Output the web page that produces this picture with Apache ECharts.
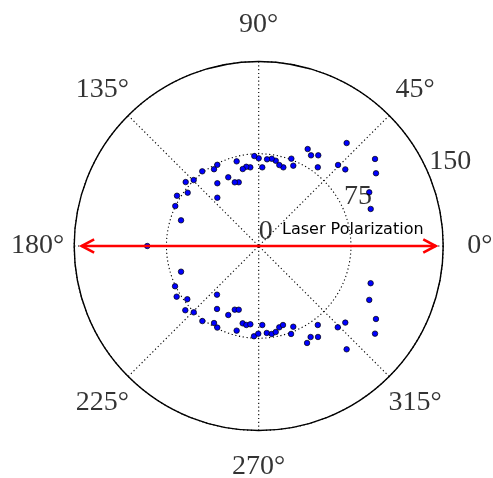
<!DOCTYPE html>
<html>
<head>
<meta charset="utf-8">
<script src="https://cdn.jsdelivr.net/npm/echarts@6/dist/echarts.min.js"></script>
<style>
  html, body { margin: 0; padding: 0; background: #fff; }
  #chart { width: 493px; height: 478px; }
</style>
</head>
<body>
<div id="chart"></div>
<script>
// Measured signal vs. angle (degrees) relative to the laser polarization axis
const angles = [
  18.3, 25.9, 31.8, 36.8, 41.5, 45.6, 49.5, 53.1, 56.7, 60.0,
  63.2, 66.7, 69.5, 72.6, 75.7, 78.7, 81.5, 84.5, 87.4, 90.0,
  92.8, 96.1, 98.9, 101.7, 104.6, 107.4, 110.6, 113.9, 117.0, 120.2,
  123.4, 127.1, 130.6, 134.6, 138.8, 143.1, 148.4, 154.4, 161.7, 180.0,
  198.3, 205.7, 211.7, 216.7, 221.2, 225.6, 229.4, 233.1, 236.5, 239.9,
  243.1, 246.2, 249.4, 252.6, 255.4, 258.3, 261.1, 263.9, 267.0, 269.7,
  272.6, 275.3, 278.4, 281.2, 284.2, 287.1, 290.2, 293.2, 296.5, 299.7,
  303.1, 306.8, 310.4, 314.2, 318.5, 323.0, 328.1, 334.0, 341.6
];
const radii = [
  95.9, 99.9, 112.2, 118.1, 94.0, 92.2, 110.1, 80.0, 88.2, 85.1,
  88.3, 71.1, 75.8, 67.0, 67.9, 70.7, 71.7, 70.8, 64.0, 71.3,
  73.2, 64.3, 65.2, 63.9, 71.1, 54.3, 55.3, 61.1, 74.1, 72.2,
  61.1, 76.1, 51.7, 75.3, 78.9, 72.2, 78.0, 75.2, 66.5, 90.6,
  66.5, 75.5, 78.4, 72.4, 79.3, 75.5, 52.1, 76.3, 61.4, 72.4,
  74.4, 61.3, 55.3, 54.3, 71.1, 64.2, 65.0, 64.0, 73.5, 71.3,
  64.3, 71.0, 72.3, 71.3, 68.2, 67.2, 76.2, 71.4, 88.1, 85.2,
  88.3, 80.2, 110.3, 92.2, 94.0, 118.4, 112.3, 100.0, 95.9
];

// Axis ticks
const angleTicks = [0, 45, 90, 135, 180, 225, 270, 315];
const radiusTicks = [0, 75, 150];
const radiusMax = 150;
const radiusLabelAngle = 22.5;
const angleLabelRadius = 179.7;

// Double-headed arrow marking the polarization direction
const arrowR = 144;
const headBackR = 133.9;
const headHalfAngle = 2.33;

const serif = '"Liberation Serif", "DejaVu Serif", serif';

const points = angles.map((a, i) => [radii[i], a]);

const chart = echarts.init(document.getElementById('chart'), null, { renderer: 'canvas' });

const gridDots = { color: '#000', width: 1.1, type: [1.2, 2.6] };

const option = {
  animation: false,
  backgroundColor: '#fff',
  polar: { center: [258.7, 246], radius: 184.5 },
  angleAxis: {
    type: 'value',
    min: 0, max: 360, interval: 45,
    startAngle: 0, clockwise: false,
    axisLine: { show: true, lineStyle: { color: '#000', width: 1.4 } },
    axisTick: { show: false },
    axisLabel: { show: false },
    splitLine: { show: true, lineStyle: gridDots }
  },
  radiusAxis: {
    type: 'value',
    min: 0, max: radiusMax, interval: 75,
    axisLine: { show: false },
    axisTick: { show: false },
    axisLabel: { show: false },
    splitLine: { show: true, lineStyle: gridDots }
  },
  graphic: [{
    type: 'text',
    left: 282, top: 222,
    style: {
      text: 'Laser Polarization',
      font: '16px "DejaVu Sans", sans-serif',
      fill: '#000'
    },
    z: 20
  }],
  series: [
    {
      type: 'scatter',
      coordinateSystem: 'polar',
      data: points,
      symbol: 'circle',
      symbolSize: 5.5,
      itemStyle: { color: '#0000ff', borderColor: '#000', borderWidth: 0.7, opacity: 1 },
      z: 3
    },
    {
      // arrow shaft
      type: 'line',
      coordinateSystem: 'polar',
      data: [[arrowR, 180], [arrowR, 0]],
      symbol: 'none',
      lineStyle: { color: '#ff0000', width: 2.6 },
      z: 5
    },
    {
      type: 'line',
      coordinateSystem: 'polar',
      data: [[headBackR, headHalfAngle], [arrowR, 0], [headBackR, 360 - headHalfAngle]],
      symbol: 'none',
      lineStyle: { color: '#ff0000', width: 2.6, join: 'miter' },
      z: 5
    },
    {
      type: 'line',
      coordinateSystem: 'polar',
      data: [[headBackR, 180 - headHalfAngle], [arrowR, 180], [headBackR, 180 + headHalfAngle]],
      symbol: 'none',
      lineStyle: { color: '#ff0000', width: 2.6, join: 'miter' },
      z: 5
    },
    {
      // angle tick labels
      type: 'scatter',
      coordinateSystem: 'polar',
      clip: false,
      silent: true,
      data: angleTicks.map(a => [angleLabelRadius, a]),
      symbolSize: 1,
      itemStyle: { color: 'transparent' },
      label: {
        show: true,
        position: 'inside',
        align: 'center',
        verticalAlign: 'middle',
        formatter: p => p.value[1] + '°',
        fontFamily: serif,
        fontSize: 28,
        color: '#000'
      }
    },
    {
      // radial tick labels
      type: 'scatter',
      coordinateSystem: 'polar',
      clip: false,
      silent: true,
      data: radiusTicks.map(r => [r, radiusLabelAngle]),
      symbolSize: 1,
      itemStyle: { color: 'transparent' },
      label: {
        show: true,
        position: 'inside',
        align: 'left',
        verticalAlign: 'bottom',
        formatter: p => String(p.value[0]),
        fontFamily: serif,
        fontSize: 28,
        color: '#000'
      },
      z: 4
    }
  ]
};

chart.setOption(option);
</script>
</body>
</html>
